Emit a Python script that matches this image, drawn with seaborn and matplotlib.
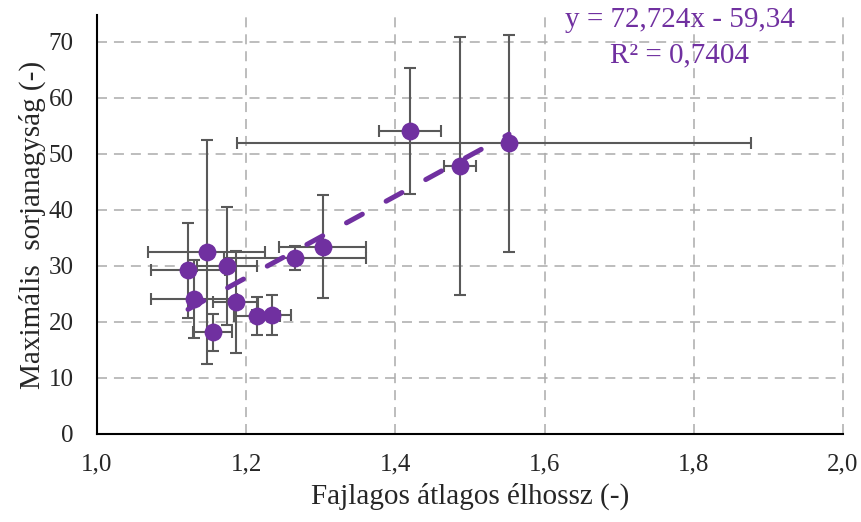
import numpy as np
import pandas as pd
import matplotlib
matplotlib.use("Agg")
import matplotlib.pyplot as plt
import seaborn as sns

# ---- data ----
x_vals = [1.147, 1.174, 1.122, 1.130, 1.186, 1.214, 1.234, 1.155, 1.265, 1.3025, 1.4196, 1.4866, 1.5523]
y_vals = [32.5, 30.0, 29.2, 24.1, 23.6, 21.1, 21.3, 18.2, 31.4, 33.45, 54.1, 47.9, 51.9]
y_err = [20.0, 10.5, 8.4, 7.0, 9.1, 3.45, 3.55, 3.3, 2.1, 9.2, 11.2, 23.0, 19.35]
x_err_minus = [0.078, 0.040, 0.049, 0.057, 0.030, 0.031, 0.026, 0.026, 0.095, 0.0585, 0.0415, 0.021, 0.364]
x_err_plus = [0.078, 0.040, 0.049, 0.057, 0.030, 0.031, 0.026, 0.026, 0.095, 0.0585, 0.0415, 0.021, 0.325]
trend_slope = 72.724
trend_intercept = -59.34
x_ticks = [1.0, 1.2, 1.4, 1.6, 1.8, 2.0]
x_tick_labels = ["1,0", "1,2", "1,4", "1,6", "1,8", "2,0"]
y_ticks = [0, 10, 20, 30, 40, 50, 60, 70]
eq_text = "y = 72,724x - 59,34"
r2_text = "R² = 0,7404"
x_label = "Fajlagos átlagos élhossz (-)"
y_label = "Maximális  sorjanagyság (-)"

df = pd.DataFrame({"x": x_vals, "y": y_vals})

sns.set_theme(style="white")
plt.rcParams["font.family"] = ["Liberation Serif", "DejaVu Serif"]
plt.rcParams["lines.scale_dashes"] = False

PURPLE = "#7030A0"
W, H = 862, 522
fig = plt.figure(figsize=(W / 100, H / 100), dpi=100)
ax = fig.add_axes([97 / W, (H - 434) / H, (843 - 97) / W, (434 - 15) / H])

ax.set_xlim(1.0, 2.0)
ax.set_ylim(0, (434 - 15) / 5.6)

# grid
for xv in x_ticks[1:]:
    ax.axvline(xv, color="#ABABAB", lw=1.1, ls=(0, (7.2, 5.0)), zorder=0, clip_on=False)
for yv in y_ticks[1:]:
    ax.axhline(yv, color="#ABABAB", lw=1.1, ls=(0, (7.2, 5.0)), zorder=0)

# error bars
ax.errorbar(x_vals, y_vals, yerr=y_err, xerr=[x_err_minus, x_err_plus], fmt="none",
            ecolor="#595959", elinewidth=1.5, capsize=4.0, capthick=1.5, zorder=2)

# markers
sns.scatterplot(data=df, x="x", y="y", ax=ax, s=165, color=PURPLE, edgecolor=PURPLE,
                linewidth=0, zorder=3, legend=False)

# trend line
tx = np.array([min(x_vals), max(x_vals)])
trend_df = pd.DataFrame({"x": tx, "y": trend_slope * tx + trend_intercept})
sns.lineplot(data=trend_df, x="x", y="y", ax=ax, color=PURPLE, lw=3.6,
             zorder=4, legend=False)
ax.lines[-1].set_linestyle((0, (13.0, 19.5)))
ax.lines[-1].set_dash_capstyle("round")

# spines
for s in ["top", "right"]:
    ax.spines[s].set_visible(False)
for s in ["left", "bottom"]:
    ax.spines[s].set_color("black")
    ax.spines[s].set_linewidth(1.5)
    ax.spines[s].set_zorder(5)

ax.set_xticks(x_ticks)
ax.set_xticklabels(x_tick_labels)
ax.set_yticks(y_ticks)
ax.tick_params(axis="both", length=0, labelsize=18, colors="#262626")
ax.tick_params(axis="y", pad=17)
ax.tick_params(axis="x", pad=14)

ax.set_xlabel(x_label, fontsize=21, color="#262626", labelpad=5)
ax.set_ylabel(y_label, fontsize=21, color="#262626", labelpad=2)

ax.text(1.7815, 73.9, eq_text, color=PURPLE, fontsize=21, ha="center", va="center", clip_on=False)
ax.text(1.7815, 67.6, r2_text, color=PURPLE, fontsize=21, ha="center", va="center", clip_on=False)

fig.savefig("out.png", dpi=100)
